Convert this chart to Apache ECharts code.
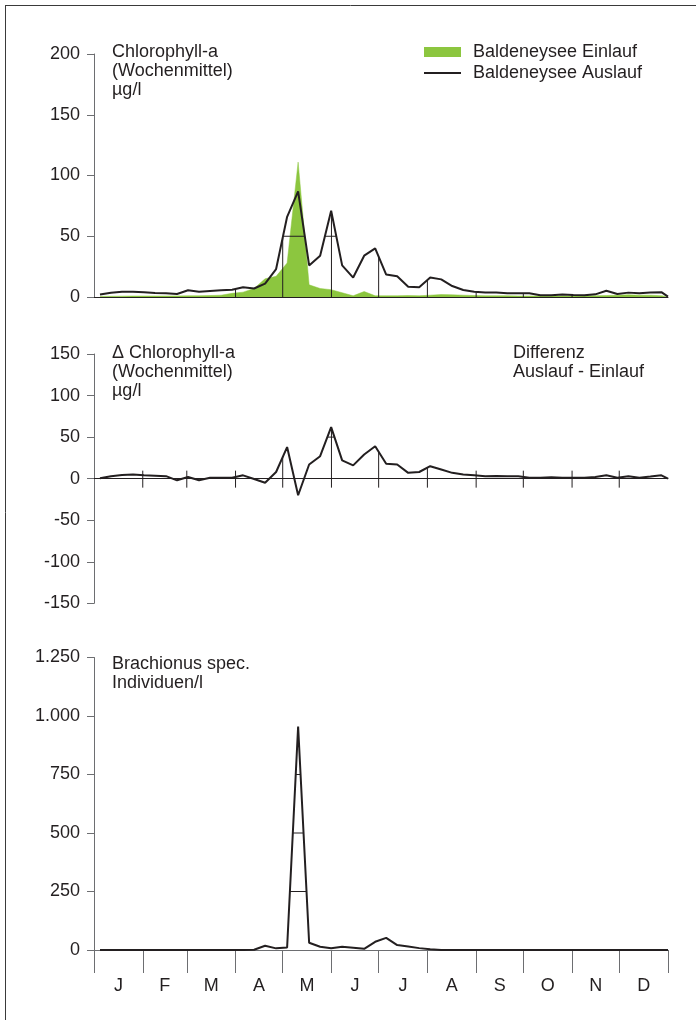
<!DOCTYPE html>
<html><head><meta charset="utf-8">
<script src="https://cdn.jsdelivr.net/npm/echarts@6/dist/echarts.min.js"></script>
<style>html,body{margin:0;padding:0;background:#fff}#c{width:696px;height:1020px}</style>
</head><body><div id="c"></div>
<script>
// ---- data ----
// weekly samples (52 weeks) plus year-end point, expressed as day of year
const weekCount = 52;
const sampleDays = [];
for (let i = 0; i < weekCount; i++) sampleDays.push(3.8 + 7 * i);
sampleDays.push(365);

const monthStarts = [0, 31, 59, 90, 120, 151, 181, 212, 243, 273, 304, 334, 365];
const monthLabels = ['J', 'F', 'M', 'A', 'M', 'J', 'J', 'A', 'S', 'O', 'N', 'D'];

// Chlorophyll-a Baldeneysee Einlauf (µg/l)
const einlauf = [0.5,0.6,0.7,0.8,0.8,0.8,0.8,0.9,1,1,1.2,1.5,
  3,4,7,15,17,28,111,10,7,6,3.5,1,4.5,1,1,
  1,1.2,1,1.5,2,1.8,1.5,1.2,1,
  1,1,0.8,0.8,0.8,0.8,0.8,0.8,1,1,
  1.2,1.5,1.8,1.5,1.5,1,0.5];
// Chlorophyll-a Baldeneysee Auslauf (µg/l)
const auslauf = [2,3.5,4.4,4.4,4,3.2,3,2.5,5.5,4.4,5,5.5,6,
  8,7,11,23,66,87,26,34,71,26,16,34,40,18.5,
  17,8.5,8,16,14.5,9,5.8,4.4,3.8,
  3.8,3,3,3,1.4,1.4,2,1.6,1.4,2.2,
  5.2,2.5,3.6,3,3.8,4,0.3];
// Differenz Auslauf - Einlauf (µg/l)
const differenz = [0.5,3,4.5,5,4,3.5,3,-2,2,-2,1,1,1.2,
  4,-0.5,-5,8,38,-20,17,27,62,22,16,29,39,18,
  17,7,8,15,11,7,5,4,3,
  3.3,3,2.8,1,1.2,1.6,1.2,1.2,1.2,2,
  4,1.2,3,1.2,2.5,4,0];
// Brachionus spec. (Individuen/l)
const brachionus = [0,0,0,0,0,0,0,0,0,0,0,0,0,0,
  1,18,7,11,955,31,14,7,14,10,5,35,52,
  21,15,8,3,0,0,0,0,0,
  0,0,0,0,0,0,0,0,0,0,
  0,0,0,0,0,0,0];

const topTicks = [0, 50, 100, 150, 200];
const midTicks = [-150, -100, -50, 0, 50, 100, 150];
const botTicks = [0, 250, 500, 750, 1000, 1250];

// ---- helpers ----
const INK = '#231f20';
const AX = '#6d6e71';
const FONT = 'Liberation Sans, Arial, Helvetica, sans-serif';
const FS = 18;
const pairs = vals => vals.map((v, i) => [sampleDays[i], v]);
function interp(vals, d) {
  for (let i = 0; i < sampleDays.length - 1; i++) {
    if (d >= sampleDays[i] && d <= sampleDays[i + 1]) {
      const t = (d - sampleDays[i]) / (sampleDays[i + 1] - sampleDays[i]);
      return vals[i] + t * (vals[i + 1] - vals[i]);
    }
  }
  return d < sampleDays[0] ? vals[0] : vals[vals.length - 1];
}
function runsAbove(vals, L) {
  const runs = []; let start = null;
  for (let i = 0; i < sampleDays.length; i++) {
    const above = vals[i] > L;
    if (i === 0) { if (above) start = sampleDays[0]; continue; }
    const prev = vals[i - 1] > L;
    if (above !== prev) {
      const t = (L - vals[i - 1]) / (vals[i] - vals[i - 1]);
      const x = sampleDays[i - 1] + t * (sampleDays[i] - sampleDays[i - 1]);
      if (above) start = x; else { runs.push([start, x]); start = null; }
    }
  }
  if (start !== null) runs.push([start, sampleDays[sampleDays.length - 1]]);
  return runs;
}
function seg(p1, p2) {
  return { type: 'line', shape: { x1: p1[0], y1: p1[1], x2: p2[0], y2: p2[1] },
    style: { stroke: INK, lineWidth: 1 } };
}
function innerGrid(vals, levels, dropDays, mode) {
  return function (params, api) {
    const children = [];
    levels.forEach(L => {
      runsAbove(vals, L).forEach(r => {
        children.push(seg(api.coord([r[0], L]), api.coord([r[1], L])));
      });
    });
    dropDays.forEach(d => {
      const base = api.coord([d, 0]);
      const top = api.coord([d, interp(vals, d)]);
      if (mode === 'cross') {
        const y2 = Math.min(base[1] - 8, top[1]);
        children.push(seg([base[0], base[1] + 9], [base[0], y2]));
      } else {
        children.push(seg(base, top));
      }
    });
    return { type: 'group', children };
  };
}

const labelStyle = { color: INK, fontSize: FS, fontFamily: FONT };
function yAxis(gi, min, max, interval, fmt) {
  return {
    type: 'value', gridIndex: gi, min, max, interval,
    axisLine: { show: true, lineStyle: { color: AX, width: 1 } },
    axisTick: { show: true, length: 7, lineStyle: { color: AX, width: 1 } },
    axisLabel: Object.assign({ margin: 14, formatter: fmt }, labelStyle),
    splitLine: { show: false }
  };
}
function xAxis(gi, extra) {
  return Object.assign({
    type: 'value', gridIndex: gi, min: 0, max: 365,
    axisLine: { show: true, onZero: true, lineStyle: { color: INK, width: 1 } },
    axisTick: { show: false }, axisLabel: { show: false }, splitLine: { show: false }
  }, extra || {});
}
const thousands = v => v >= 1000 ? Math.floor(v / 1000) + '.' + String(v % 1000).padStart(3, '0') : String(v);
const titleText = (txt, left, top) => ({
  text: txt, left, top, padding: 0,
  textStyle: { fontSize: FS, lineHeight: 19, fontWeight: 'normal', color: INK, fontFamily: FONT }
});

const monthMids = monthLabels.map((m, i) => (monthStarts[i] + monthStarts[i + 1]) / 2);

const chart = echarts.init(document.getElementById('c'), null, { renderer: 'canvas' });
chart.setOption({
  animation: false,
  backgroundColor: '#fff',
  title: [
    titleText('Chlorophyll-a\n(Wochenmittel)\nµg/l', 112, 43),
    titleText('\u0394 Chlorophyll-a\n(Wochenmittel)\nµg/l', 112, 344),
    titleText('Differenz\nAuslauf - Einlauf', 513, 344),
    titleText('Brachionus spec.\nIndividuen/l', 112, 655)
  ],
  legend: {
    orient: 'vertical', left: 424, top: 42, padding: 0, itemWidth: 37, itemHeight: 10, itemGap: 1,
    selectedMode: false,
    data: [
      { name: 'Baldeneysee Einlauf', icon: 'rect' },
      { name: 'Baldeneysee Auslauf', icon: 'path://M0,0H37V1.8H0Z' }
    ],
    textStyle: { fontSize: FS, lineHeight: 20, color: INK, fontFamily: FONT, padding: [0, 0, 0, 7] }
  },
  graphic: [
    { type: 'line', shape: { x1: 5.5, y1: 5, x2: 5.5, y2: 1020 }, style: { stroke: '#3a3a3a', lineWidth: 1 } },
    { type: 'line', shape: { x1: 5, y1: 5.5, x2: 696, y2: 5.5 }, style: { stroke: '#3a3a3a', lineWidth: 1 } }
  ],
  grid: [
    { left: 94, right: 28, top: 54, height: 243, outerBoundsMode: 'none' },
    { left: 94, right: 28, top: 354, height: 249.3, outerBoundsMode: 'none' },
    { left: 94, right: 28, top: 657.5, height: 292.5, outerBoundsMode: 'none' }
  ],
  xAxis: [
    xAxis(0),
    xAxis(1),
    xAxis(2, {
      axisLine: { show: true, onZero: true, lineStyle: { color: AX, width: 1 } },
      axisTick: { show: true, length: 23, customValues: monthStarts, lineStyle: { color: AX, width: 1 } },
      axisLabel: Object.assign({ show: true, margin: 27, customValues: monthMids,
        formatter: v => monthLabels[monthMids.indexOf(v)] || '' }, labelStyle)
    })
  ],
  yAxis: [
    yAxis(0, topTicks[0], topTicks[topTicks.length - 1], 50, v => String(v)),
    yAxis(1, midTicks[0], midTicks[midTicks.length - 1], 50, v => String(v)),
    yAxis(2, botTicks[0], botTicks[botTicks.length - 1], 250, thousands)
  ],
  series: [
    { name: 'Baldeneysee Einlauf', type: 'line', xAxisIndex: 0, yAxisIndex: 0, data: pairs(einlauf),
      symbol: 'none', z: 1, itemStyle: { color: '#8cc63f' },
      lineStyle: { width: 0.5, color: '#8cc63f' }, areaStyle: { color: '#8cc63f', opacity: 1 } },
    { type: 'custom', xAxisIndex: 0, yAxisIndex: 0, data: [[0, 0]], z: 2, silent: true,
      renderItem: innerGrid(auslauf, [50, 100, 150], monthStarts.slice(3, 11), 'drop') },
    { name: 'Baldeneysee Auslauf', type: 'line', xAxisIndex: 0, yAxisIndex: 0, data: pairs(auslauf),
      symbol: 'none', z: 3, itemStyle: { color: INK }, lineStyle: { width: 2, color: INK } },

    { type: 'custom', xAxisIndex: 1, yAxisIndex: 1, data: [[0, 0]], z: 2, silent: true,
      renderItem: innerGrid(differenz, [50, 100], monthStarts.slice(1, 12), 'cross') },
    { name: 'Differenz', type: 'line', xAxisIndex: 1, yAxisIndex: 1, data: pairs(differenz),
      symbol: 'none', z: 3, lineStyle: { width: 2, color: INK } },

    { type: 'custom', xAxisIndex: 2, yAxisIndex: 2, data: [[0, 0]], z: 2, silent: true,
      renderItem: innerGrid(brachionus, [250, 500, 750, 1000], [], 'drop') },
    { name: 'Brachionus', type: 'line', xAxisIndex: 2, yAxisIndex: 2, data: pairs(brachionus),
      symbol: 'none', z: 3, lineStyle: { width: 2, color: INK } }
  ]
});
</script></body></html>
